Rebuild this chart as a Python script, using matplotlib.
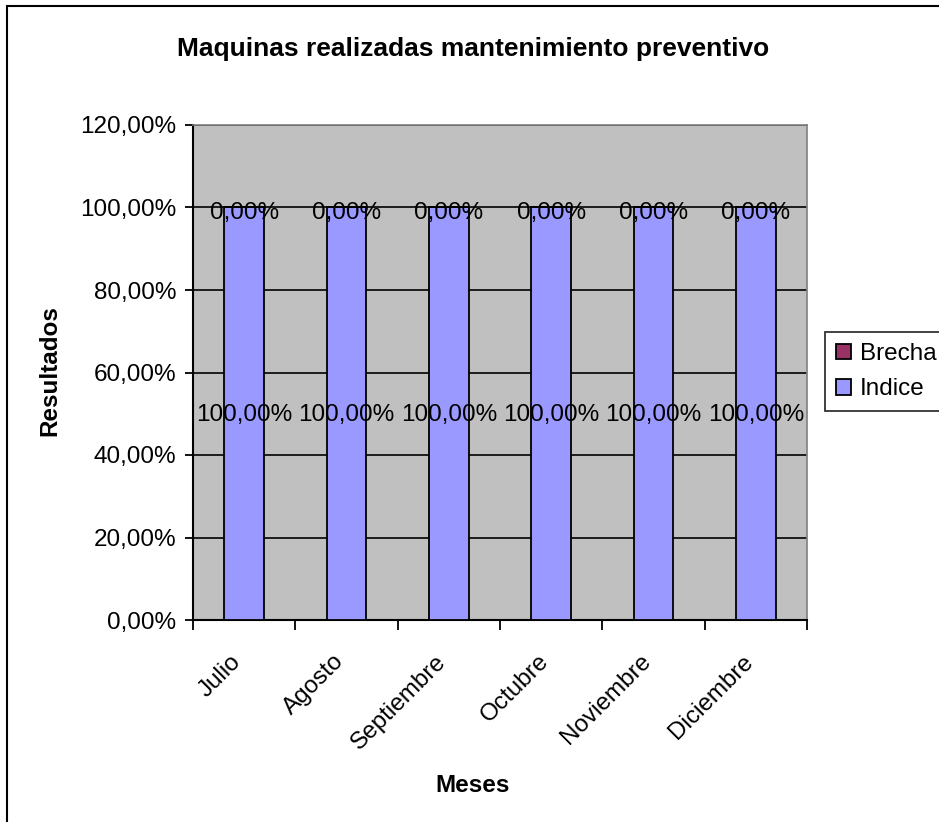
import numpy as np
import matplotlib
matplotlib.use("Agg")
import matplotlib.pyplot as plt
from matplotlib.patches import Rectangle
from matplotlib.ticker import FixedLocator, FuncFormatter, NullFormatter

plt.rcParams["font.family"] = ["Liberation Sans", "DejaVu Sans"]

# datos
meses = ["Julio", "Agosto", "Septiembre", "Octubre", "Noviembre", "Diciembre"]
indice = [1.00, 1.00, 1.00, 1.00, 1.00, 1.00]
brecha = [0.00, 0.00, 0.00, 0.00, 0.00, 0.00]
y_ticks = [0.0, 0.2, 0.4, 0.6, 0.8, 1.0, 1.2]

C_INDICE = "#9999FF"
C_BRECHA = "#993366"
C_FONDO = "#C0C0C0"
FS = 17.5


def pct(v):
    return f"{v * 100:.2f}%".replace(".", ",")


fig = plt.figure(figsize=(9.39, 8.22), dpi=100)
fig.patch.set_facecolor("white")

# marco exterior del grafico
fig.patches.append(Rectangle((7 / 939, -0.1), 1.2, 1.1 - 6 / 822,
                             transform=fig.transFigure, fill=False,
                             edgecolor="black", linewidth=1.5, zorder=0))

ax = fig.add_axes([193 / 939, 1 - 620 / 822, 614 / 939, 495 / 822])
ax.set_facecolor(C_FONDO)

x = np.arange(len(meses))
w = 0.39
b1 = ax.bar(x, indice, width=w, color=C_INDICE, edgecolor="black",
            linewidth=1.3, label="Indice", zorder=3)
b2 = ax.bar(x, brecha, width=w, bottom=indice, color=C_BRECHA,
            edgecolor="black", linewidth=1.3, label="Brecha", zorder=3)

# etiquetas de valor
for xi, vi, bi in zip(x, indice, brecha):
    ax.annotate(pct(vi), (xi, vi / 2), xytext=(0, -1), textcoords="offset points",
                ha="center", va="center", fontsize=FS, zorder=5)
    ax.annotate(pct(bi), (xi, vi + bi / 2), xytext=(0, -4), textcoords="offset points",
                ha="center", va="center", fontsize=FS, zorder=5)

ax.set_xlim(-0.5, len(meses) - 0.5)
ax.set_ylim(0, 1.2)
ax.set_yticks(y_ticks)
ax.yaxis.set_major_formatter(FuncFormatter(lambda v, p: pct(v)))
ax.yaxis.grid(True, color="black", linewidth=1.2, zorder=1)
ax.set_axisbelow(True)

# ticks en los limites de categoria
ax.xaxis.set_major_locator(FixedLocator(np.arange(len(meses) + 1) - 0.5))
ax.xaxis.set_major_formatter(NullFormatter())
ax.tick_params(axis="x", direction="out", length=7, width=1.3)
ax.tick_params(axis="y", direction="out", length=6, width=1.3, labelsize=FS, pad=6)

# nombres de mes girados bajo cada categoria
for xi, m in zip(x, meses):
    ax.annotate(m, (xi, 0), xycoords=ax.get_xaxis_transform(),
                xytext=(-10, -22), textcoords="offset points",
                rotation=45, rotation_mode="anchor", ha="right", va="top",
                fontsize=FS, annotation_clip=False)

for s in ["left", "bottom"]:
    ax.spines[s].set_linewidth(1.5)
    ax.spines[s].set_color("black")
for s in ["top", "right"]:
    ax.spines[s].set_linewidth(1.2)
    ax.spines[s].set_color("#808080")

fig.text(50 / 939, 1 - 371 / 822, "Resultados", rotation=90,
         ha="center", va="center", fontsize=FS, fontweight="bold")
fig.text(473 / 939, 1 - 785 / 822, "Meses",
         ha="center", va="center", fontsize=FS, fontweight="bold")
fig.text(473 / 939, 1 - 49 / 822, "Maquinas realizadas mantenimiento preventivo",
         ha="center", va="center", fontsize=19, fontweight="bold")

leg = fig.legend(handles=[b2, b1], labels=["Brecha", "Indice"],
                 loc="upper left", bbox_to_anchor=(825 / 939, 1 - 332 / 822),
                 fontsize=FS, frameon=True, fancybox=False, edgecolor="black",
                 handlelength=0.62, handleheight=0.62, handletextpad=0.37,
                 borderpad=0.45, labelspacing=0.55, borderaxespad=0)
leg.get_frame().set_linewidth(1.3)

fig.savefig("out.png", dpi=100)
